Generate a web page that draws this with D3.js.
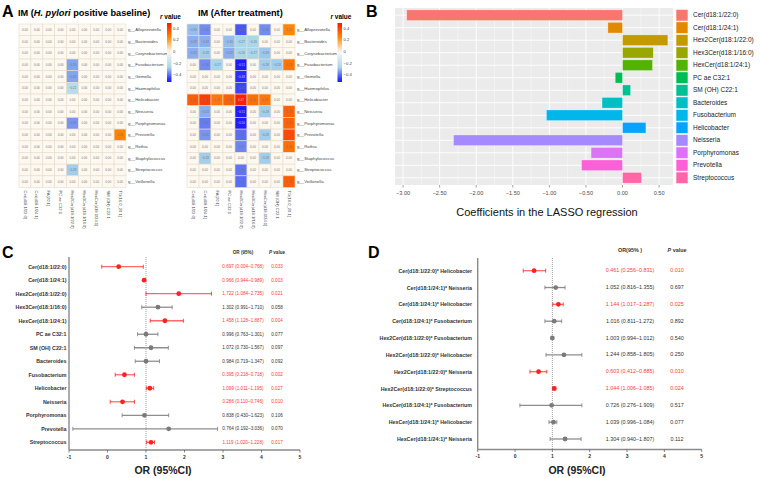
<!DOCTYPE html>
<html><head><meta charset="utf-8">
<script src="https://cdn.jsdelivr.net/npm/d3@7"></script>
<style>body{margin:0;background:#fff}svg{font-family:Arial,"Liberation Sans",sans-serif}</style>
</head><body><svg id="c" width="760" height="478"></svg>
<script>
// ---------- DATA ----------
const heatCols = ["Cer(d18:1/22:0)","Cer(d18:1/24:1)","FA(20:1)","PC ae C32:1","Hex2Cer(d18:1/22:0)","Hex3Cer(d18:1/16:0)","HexCer(d18:1/24:1)","SM (OH) C22:1","TG(16:0_20:1)"];
const heatRows = ["g__Alloprevotella","g__Bacteroides","g__Corynebacterium","g__Fusobacterium","g__Gemella","g__Haemophilus","g__Helicobacter","g__Neisseria","g__Porphyromonas","g__Prevotella","g__Rothia","g__Staphylococcus","g__Streptococcus","g__Veillonella"];
const heatBaseline = [
 [0,0,0,0,0,0,0,0,0],
 [0,0,0,0,0,0,0,0,0],
 [0,0,0,0,0,0,0,0,0],
 [0,0,0,0,-0.33,0,0,0,0],
 [0,0,0,0,-0.33,0,0,0,0],
 [0,0,0,0,-0.22,0,0,0,0],
 [0,0,0,0,0,0,0,0,0],
 [0,0,0,0,0,0,0,0,0],
 [0,0,0,0,-0.35,0,0,0,0],
 [0,0,0,0,0,0,0,0,0.26],
 [0,0,0,0,0,0,0,0,0],
 [0,0,0,0,0,0,0,0,0],
 [0,0,0,0,-0.28,0,0,0,0],
 [0,0,0,0,0,0,0,0,0]
];
const heatAfter = [
 [-0.30,-0.36,0,0,-0.43,0,-0.36,0,0.25],
 [-0.32,-0.32,0,-0.30,-0.27,-0.26,0,0,0],
 [-0.32,-0.28,0,-0.32,-0.26,-0.27,-0.29,0,0],
 [0,-0.36,-0.27,0,-0.51,0,-0.28,-0.28,0.29],
 [0,0,0,0,-0.48,0,0,0,0],
 [0,0,0,0,-0.45,0,0,0,0],
 [0.34,0.41,0.28,0.33,0.47,0.30,0.28,0,0],
 [0,-0.32,0,0,-0.51,0,-0.28,0,0.33],
 [0,-0.38,0,0,-0.50,0,0,0,0.33],
 [0,-0.35,0,0,-0.40,0,-0.28,0,0.38],
 [0,0,0,0,-0.37,0,0,0,0.30],
 [0,-0.28,0,0,0,0,-0.28,0,0],
 [0,0,0,0,-0.39,0,0,0,0],
 [0,0,0,0,-0.40,0,0,0,0.34]
];
const legendTicks = [0.4,0.2,0,-0.2,-0.4];

const lassoNames = ["Cer(d18:1/22:0)","Cer(d18:1/24:1)","Hex2Cer(d18:1/22:0)","Hex3Cer(d18:1/16:0)","HexCer(d18:1/24:1)","PC ae C32:1","SM (OH) C22:1","Bacteroides","Fusobacterium","Helicobacter","Neisseria","Porphyromonas","Prevotella","Streptococcus"];
const lassoCoef = [-2.95,-0.20,0.62,0.42,0.41,-0.10,0.11,-0.28,-1.04,0.32,-2.31,-0.43,-0.56,0.26];
const lassoTicks = [-3,-2.5,-2,-1.5,-1,-0.5,0,0.5];
const lassoColors = ["#F8766D","#E38900","#C49A00","#99A800","#53B400","#00BC56","#00C094","#00BFC4","#00B6EB","#06A4FF","#A58AFF","#DF70F8","#FB61D7","#FF66A8"];

const cNames = ["Cer(d18:1/22:0)","Cer(d18:1/24:1)","Hex2Cer(d18:1/22:0)","Hex3Cer(d18:1/16:0)","HexCer(d18:1/24:1)","PC ae C32:1","SM (OH) C22:1","Bacteroides","Fusobacterium","Helicobacter","Neisseria","Porphyromonas","Prevotella","Streptococcus"];
const cOR   = [0.29,0.95,1.85,1.31,1.49,1.00,1.13,1.00,0.44,1.10,0.39,0.96,1.59,1.13];
const cLow  = [-0.15,0.94,1.00,0.89,1.11,0.78,0.70,0.72,0.20,1.01,0.07,0.38,-0.90,1.01];
const cHigh = [0.93,0.99,2.70,1.68,1.97,1.31,1.58,1.35,0.70,1.20,0.70,1.59,2.86,1.22];
const cSig  = [1,1,1,0,1,0,0,0,1,1,1,0,0,1];
const cText = ["0.697 (0.004–0.768)","0.966 (0.944–0.989)","1.722 (1.084–2.735)","1.302 (0.991–1.710)","1.458 (1.128–1.887)","0.996 (0.763–1.301)","1.072 (0.730–1.567)","0.984 (0.719–1.347)","0.395 (0.218–0.718)","1.099 (1.011–1.195)","0.286 (0.110–0.746)","0.838 (0.430–1.623)","0.764 (0.192–3.036)","1.119 (1.020–1.228)"];
const cP    = ["0.033","0.003","0.021","0.058","0.004","0.077","0.097","0.092","0.002","0.027","0.010","0.106","0.070","0.017"];

const dNames = ["Cer(d18:1/22:0)* Helicobacter","Cer(d18:1/24:1)* Neisseria","Cer(d18:1/24:1)* Helicobacter","Cer(d18:1/24:1)* Fusobacterium","Hex2Cer(d18:1/22:0)* Fusobacterium","Hex2Cer(d18:1/22:0)* Helicobacter","Hex2Cer(d18:1/22:0)* Neisseria","Hex2Cer(d18:1/22:0)* Streptococcus","HexCer(d18:1/24:1)* Fusobacterium","HexCer(d18:1/24:1)* Helicobacter","HexCer(d18:1/24:1)* Neisseria"];
const dOR   = [0.51,1.09,1.16,1.05,1.00,1.31,0.63,1.05,0.98,1.03,1.34];
const dLow  = [0.22,0.80,1.01,0.80,0.97,0.83,0.40,1.01,0.13,0.91,0.94];
const dHigh = [0.82,1.34,1.29,1.25,1.03,1.79,0.85,1.09,1.79,1.12,1.77];
const dSig  = [1,0,1,0,0,0,1,1,0,0,0];
const dText = ["0.461 (0.256–0.831)","1.052 (0.816–1.355)","1.144 (1.017–1.287)","1.016 (0.811–1.272)","1.003 (0.994–1.012)","1.244 (0.858–1.805)","0.603 (0.412–0.885)","1.044 (1.006–1.085)","0.726 (0.276–1.909)","1.039 (0.996–1.084)","1.304 (0.940–1.807)"];
const dP    = ["0.010","0.697","0.025","0.892","0.540","0.250","0.010","0.024","0.517","0.077","0.112"];
const orTicks = [-1,0,1,2,3,4,5];

// ---------- DRAW ----------
const svg = d3.select("#c");
const RED = "#ff2020", REDL = "#ff6a6a", GRAY = "#7a7a7a", GRAYL = "#8e8e8e", TXTRED = "#ff3b3b";

const heatColor = d3.scaleLinear()
  .domain([-0.5,-0.27,0,0.24,0.5])
  .range(["#1c1cff","#a8d6ea","#fdf8f0","#ff8c00","#ff1200"])
  .clamp(true);

function panelLetter(t,x,y){
  svg.append("text").attr("x",x).attr("y",y).attr("font-size",16).attr("font-weight","bold").text(t);
}
panelLetter("A",2,17); panelLetter("B",366,17); panelLetter("C",2,258); panelLetter("D",368,258);

function drawHeat(mat, x0, x1, y0, y1, cbx){
  const g = svg.append("g");
  const x = d3.scaleBand().domain(heatCols).range([x0,x1]);
  const y = d3.scaleBand().domain(heatRows).range([y0,y1]);
  const cells = [];
  mat.forEach((r,i)=>r.forEach((v,j)=>cells.push({r:heatRows[i],c:heatCols[j],v})));
  g.selectAll("rect.cell").data(cells).join("rect")
    .attr("x",d=>x(d.c)).attr("y",d=>y(d.r))
    .attr("width",x.bandwidth()).attr("height",y.bandwidth())
    .attr("fill",d=>heatColor(d.v)).attr("stroke","#e6dccd").attr("stroke-width",0.6);
  g.selectAll("text.val").data(cells).join("text")
    .attr("x",d=>x(d.c)+x.bandwidth()/2).attr("y",d=>y(d.r)+y.bandwidth()/2+1)
    .attr("text-anchor","middle").attr("font-size",3).attr("fill",d=>Math.abs(d.v)>0.45?"#ccc":"#777")
    .text(d=>d3.format(".2f")(d.v));
  g.selectAll("text.row").data(heatRows).join("text")
    .attr("x",x1+2).attr("y",d=>y(d)+y.bandwidth()/2+1.5)
    .attr("font-size",4.3).attr("fill","#444").text(d=>d);
  g.selectAll("text.col").data(heatCols).join("text")
    .attr("transform",d=>`translate(${x(d)+x.bandwidth()/2-1.4},${y1+3}) rotate(90)`)
    .attr("font-size",4.1).attr("fill","#444").text(d=>d);
  // colorbar
  const cy = d3.scaleLinear().domain([-0.52,0.49]).range([82,23]);
  const gid = "grad"+Math.round(cbx);
  const grad = svg.append("defs").append("linearGradient").attr("id",gid)
    .attr("x1",0).attr("x2",0).attr("y1",1).attr("y2",0);
  d3.range(0,1.0001,0.05).forEach(t=>{
    grad.append("stop").attr("offset",t).attr("stop-color",heatColor(-0.52+t*1.01));
  });
  g.append("rect").attr("x",cbx).attr("y",23).attr("width",4.5).attr("height",59).attr("fill",`url(#${gid})`);
  g.selectAll("text.cb").data(legendTicks).join("text")
    .attr("x",cbx+6).attr("y",d=>cy(d)+1.5).attr("font-size",4.2).attr("fill","#444")
    .text(d=>d===0?"0":d3.format(".1f")(d));
  const rv = g.append("text").attr("x",cbx-7).attr("y",19).attr("font-size",6.5).attr("font-weight","bold");
  rv.append("tspan").attr("font-style","italic").text("r");
  rv.append("tspan").text(" value");
}
drawHeat(heatBaseline,19,126,24,187.5,167);
drawHeat(heatAfter,187,295,24,187.5,337.5);

const t1 = svg.append("text").attr("x",18).attr("y",16).attr("font-size",9.2).attr("font-weight","bold");
t1.append("tspan").text("IM (");
t1.append("tspan").attr("font-style","italic").text("H. pylori");
t1.append("tspan").text(" positive baseline)");
svg.append("text").attr("x",198).attr("y",16).attr("font-size",9.2).attr("font-weight","bold").text("IM (After treatment)");

// ---------- PANEL B ----------
(function(){
  const g = svg.append("g");
  const x = d3.scaleLinear().domain([-3.11,0.69]).range([395,673]);
  const y = d3.scaleBand().domain(lassoNames).range([8,185]).padding(0.15);
  const color = d3.scaleOrdinal().domain(lassoNames).range(lassoColors);
  g.append("rect").attr("x",395).attr("y",8).attr("width",278).attr("height",177).attr("fill","#ebebeb");
  const minor = d3.range(-3.25,0.76,0.5).filter(v=>x(v)>395&&x(v)<673);
  g.selectAll("line.mn").data(minor).join("line")
    .attr("x1",d=>x(d)).attr("x2",d=>x(d)).attr("y1",8).attr("y2",185).attr("stroke","#fff").attr("stroke-width",0.4);
  g.selectAll("line.mj").data(lassoTicks).join("line")
    .attr("x1",d=>x(d)).attr("x2",d=>x(d)).attr("y1",8).attr("y2",185).attr("stroke","#fff").attr("stroke-width",0.9);
  g.selectAll("line.hy").data(lassoNames).join("line")
    .attr("x1",395).attr("x2",673).attr("y1",d=>y(d)+y.bandwidth()/2).attr("y2",d=>y(d)+y.bandwidth()/2)
    .attr("stroke","#fff").attr("stroke-width",0.9);
  g.selectAll("rect.bar").data(lassoNames).join("rect")
    .attr("x",(d,i)=>x(Math.min(0,lassoCoef[i]))).attr("y",d=>y(d))
    .attr("width",(d,i)=>Math.abs(x(lassoCoef[i])-x(0))).attr("height",y.bandwidth())
    .attr("fill",d=>color(d)).attr("stroke","#fff").attr("stroke-opacity",0.6).attr("stroke-width",0.5);
  g.selectAll("line.tk").data(lassoTicks).join("line")
    .attr("x1",d=>x(d)).attr("x2",d=>x(d)).attr("y1",185).attr("y2",187.5).attr("stroke","#444").attr("stroke-width",0.5);
  g.selectAll("text.tk").data(lassoTicks).join("text")
    .attr("x",d=>x(d)).attr("y",195).attr("text-anchor","middle").attr("font-size",5.6).attr("fill","#4d4d4d")
    .text(d=>d3.format(".2f")(d));
  // legend
  const b2 = y.step();
  g.selectAll("rect.lg").data(lassoNames).join("rect")
    .attr("x",676).attr("y",d=>y(d)+y.bandwidth()/2-b2/2+0.4).attr("width",12).attr("height",b2-0.8)
    .attr("fill",d=>color(d)).attr("stroke","#fff").attr("stroke-width",0.6);
  g.selectAll("text.lg").data(lassoNames).join("text")
    .attr("x",693).attr("y",d=>y(d)+y.bandwidth()/2+2.2).attr("font-size",6.5).attr("fill","#222").text(d=>d);
  g.append("text").attr("x",547).attr("y",216).attr("text-anchor","middle").attr("font-size",11).attr("fill","#111")
    .text("Coefficients in the LASSO regression");
})();

// ---------- FOREST ----------
function forest(o){
  const g = svg.append("g");
  const x = d3.scaleLinear().domain([-1,5]).range([o.x0,o.x1]);
  const y = d3.scalePoint().domain(o.names).range([o.yr0,o.yr1]);
  g.append("line").attr("x1",x(1)).attr("x2",x(1)).attr("y1",o.top).attr("y2",o.axY)
    .attr("stroke","#777").attr("stroke-width",0.7).attr("stroke-dasharray","1,1");
  g.append("line").attr("x1",x(-1)).attr("x2",x(-1)).attr("y1",o.top).attr("y2",o.axY).attr("stroke","#8a8a8a").attr("stroke-width",1.4);
  g.append("line").attr("x1",x(-1)).attr("x2",x(5)).attr("y1",o.axY).attr("y2",o.axY).attr("stroke","#8a8a8a").attr("stroke-width",1.4);
  g.selectAll("line.tk").data(orTicks).join("line")
    .attr("x1",d=>x(d)).attr("x2",d=>x(d)).attr("y1",o.axY).attr("y2",o.axY+2.5).attr("stroke","#555").attr("stroke-width",0.7);
  g.selectAll("text.tk").data(orTicks).join("text")
    .attr("x",d=>x(d)).attr("y",o.axY+8.5).attr("text-anchor","middle").attr("font-size",5).attr("font-weight","bold").attr("fill","#333")
    .text(d=>d);
  g.append("text").attr("x",o.titleX).attr("y",474).attr("text-anchor","middle").attr("font-size",10.5).attr("font-weight","bold").attr("fill","#222").text("OR (95%CI)");
  const idx = o.names.map((d,i)=>i);
  g.selectAll("line.ci").data(idx).join("line")
    .attr("x1",i=>x(o.low[i])).attr("x2",i=>x(o.high[i])).attr("y1",i=>y(o.names[i])).attr("y2",i=>y(o.names[i]))
    .attr("stroke",i=>o.sig[i]?REDL:GRAYL).attr("stroke-width",1.3);
  ["low","high"].forEach(k=>{
    g.selectAll("line.cap"+k).data(idx).join("line")
      .attr("x1",i=>x(o[k][i])).attr("x2",i=>x(o[k][i])).attr("y1",i=>y(o.names[i])-2).attr("y2",i=>y(o.names[i])+2)
      .attr("stroke",i=>o.sig[i]?RED:GRAY).attr("stroke-width",0.8);
  });
  g.selectAll("circle.pt").data(idx).join("circle")
    .attr("cx",i=>x(o.or[i])).attr("cy",i=>y(o.names[i])).attr("r",2.4)
    .attr("fill",i=>o.sig[i]?RED:GRAY);
  g.selectAll("text.lab").data(idx).join("text")
    .attr("x",o.labX).attr("y",i=>y(o.names[i])+2).attr("text-anchor","end").attr("font-size",o.labFs).attr("font-weight","bold").attr("fill","#333")
    .text(i=>o.names[i]);
  g.selectAll("text.or").data(idx).join("text")
    .attr("x",o.orX).attr("y",i=>y(o.names[i])+1.6).attr("text-anchor","middle").attr("font-size",o.tFs)
    .attr("fill",i=>o.sig[i]?TXTRED:"#333").text(i=>o.text[i]);
  g.selectAll("text.p").data(idx).join("text")
    .attr("x",o.pX).attr("y",i=>y(o.names[i])+1.6).attr("text-anchor","middle").attr("font-size",o.tFs)
    .attr("fill",i=>o.sig[i]?TXTRED:"#333").text(i=>o.p[i]);
  g.append("text").attr("x",o.orX).attr("y",o.hY).attr("text-anchor","middle").attr("font-size",o.tFs).attr("font-weight","bold").attr("fill","#333").text(o.orHead);
  const ph = g.append("text").attr("x",o.pX).attr("y",o.hY).attr("text-anchor","middle").attr("font-size",o.tFs).attr("font-weight","bold").attr("fill","#333");
  ph.append("tspan").attr("font-style","italic").text("P");
  ph.append("tspan").text(" value");
}
forest({names:cNames,or:cOR,low:cLow,high:cHigh,sig:cSig,text:cText,p:cP,
  x0:69,x1:300,yr0:266.7,yr1:442.3,top:257,axY:450,labX:66.5,labFs:5.3,
  orX:243,pX:277,tFs:4.6,hY:254,orHead:"OR (95%)",titleX:163});
forest({names:dNames,or:dOR,low:dLow,high:dHigh,sig:dSig,text:dText,p:dP,
  x0:477.7,x1:701.7,yr0:270.7,yr1:439,top:258,axY:449.5,labX:472,labFs:5.3,
  orX:630,pX:677,tFs:5.4,hY:252,orHead:"OR(95% )",titleX:577});
</script></body></html>
